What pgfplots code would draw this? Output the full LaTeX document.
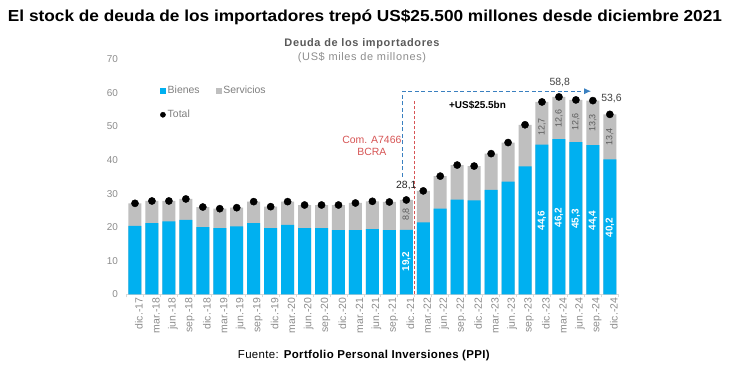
\documentclass[border=0pt]{standalone}
\usepackage{graphicx}
\usepackage{pgfplots}
\pgfplotsset{compat=1.18}
\usepackage{pgfplotstable}
\usepackage{fontspec}
\setmainfont{Liberation Sans}
\usetikzlibrary{arrows.meta}
\definecolor{bienes}{HTML}{00B0F0}
\definecolor{servicios}{HTML}{BFBFBF}
\definecolor{ticklbl}{HTML}{8C8C8C}
\definecolor{lgtxt}{HTML}{7F7F7F}
\definecolor{subdark}{HTML}{595959}
\definecolor{segtxt}{HTML}{5A5A5A}
\definecolor{axisgray}{HTML}{D9D9D9}
\definecolor{redann}{HTML}{D65454}
\definecolor{bluearr}{HTML}{3A80C0}

\pgfplotstableread{
idx bienes servicios total
0 20.4 6.7 27.1
1 21.2 6.6 27.8
2 21.7 6.1 27.8
3 22.2 6.2 28.4
4 20.0 6.0 26.0
5 19.7 5.8 25.5
6 20.2 5.6 25.8
7 21.2 6.4 27.6
8 19.7 6.4 26.1
9 20.7 6.9 27.6
10 19.7 6.9 26.6
11 19.7 6.9 26.6
12 19.1 7.5 26.6
13 19.1 8.1 27.2
14 19.4 8.3 27.7
15 19.1 8.4 27.5
16 19.2 8.8 28.1
17 21.4 9.4 30.8
18 25.5 9.7 35.2
19 28.2 10.3 38.5
20 28.0 10.2 38.2
21 31.1 10.8 41.9
22 33.6 11.6 45.2
23 38.1 12.4 50.5
24 44.6 12.7 57.3
25 46.2 12.6 58.8
26 45.3 12.6 57.9
27 44.4 13.3 57.7
28 40.2 13.4 53.6
}\datatable

\begin{document}
\begin{tikzpicture}
\path[use as bounding box] (0,0) rectangle (730bp,370bp);
\node[inner sep=0pt, font=\bfseries\fontsize{16}{19}\selectfont, text=black] at (365bp,353bp) {\resizebox{714bp}{\height}{El stock de deuda de los importadores trepó US\$25.500 millones desde diciembre 2021}};
\node[font=\bfseries\fontsize{11}{13}\selectfont, text=subdark] at (362bp,326bp) {\addfontfeatures{LetterSpace=6}Deuda de los importadores};
\node[font=\fontsize{11}{13}\selectfont, text=ticklbl] at (362bp,312bp) {\addfontfeatures{LetterSpace=6}(US\$ miles de millones)};
\node[font=\fontsize{11.5}{13}\selectfont, text=black] at (364bp,14bp) {\addfontfeatures{LetterSpace=3}Fuente: \textbf{Portfolio Personal Inversiones (PPI)}};
\begin{axis}[
  at={(126.5bp,75.7bp)}, anchor=south west,
  scale only axis, width=491.8bp, height=235bp,
  xmin=-0.5, xmax=28.5, ymin=0, ymax=70,
  enlargelimits=false, clip=false,
  axis x line*=bottom, axis y line*=left,
  x axis line style={draw=axisgray, line width=0.8bp},
  y axis line style={draw=none},
  ytick={0,10,...,70}, ytick style={draw=none},
  xtick={0,...,28},
  xticklabels={dic.-17,mar.-18,jun.-18,sep.-18,dic.-18,mar.-19,jun.-19,sep.-19,dic.-19,mar.-20,jun.-20,sep.-20,dic.-20,mar.-21,jun.-21,sep.-21,dic.-21,mar.-22,jun.-22,sep.-22,dic.-22,mar.-23,jun.-23,sep.-23,dic.-23,mar.-24,jun.-24,sep.-24,dic.-24},
  major tick length=0pt,
  minor xtick={-0.5,0.5,...,28.5},
  minor tick length=3bp, tick align=outside,
  minor tick style={draw=axisgray, line width=0.8bp},
  /pgf/number format/assume math mode=true,
  yticklabel style={font=\fontsize{10}{11}\selectfont, text=ticklbl, xshift=-5bp},
  xticklabel style={rotate=90, anchor=east, font=\fontsize{10.5}{12}\selectfont, text=ticklbl, yshift=-4bp},
  legend columns=2,
  legend cell align=left,
  legend style={draw=none, fill=none, inner sep=0pt,
    at={(axis description cs:0.068,0.895)}, anchor=north west,
    font=\fontsize{10.5}{12}\selectfont, text=lgtxt,
    row sep=11bp,
    /tikz/every even column/.append style={column sep=14bp}},
]
\addplot[ybar, bar width=13bp, bar shift=0pt, fill=servicios, draw=none, forget plot] table[x=idx, y=total] {\datatable};
\addplot[ybar, bar width=13bp, bar shift=0pt, fill=bienes, draw=none, forget plot] table[x=idx, y=bienes] {\datatable};
\addplot[only marks, mark=*, mark size=3.6bp, black, forget plot] table[x=idx, y=total] {\datatable};

\addlegendimage{legend image code/.code={\fill[bienes] (0bp,-2.6bp) rectangle (5.2bp,2.6bp);}}
\addlegendentry{Bienes}
\addlegendimage{legend image code/.code={\fill[servicios] (0bp,-2.6bp) rectangle (5.2bp,2.6bp);}}
\addlegendentry{Servicios}
\addlegendimage{legend image code/.code={\draw[black, mark=*, mark size=2.6bp] plot coordinates {(2.6bp,0bp)};}}
\addlegendentry{Total}

% annotation lines
\draw[redann, line width=0.9bp, dash pattern=on 3bp off 2bp] (axis cs:16.5,0) -- (axis cs:16.5,57.5);
\draw[bluearr, line width=1bp, dash pattern=on 4bp off 2.5bp, -{Latex[length=7bp,width=6bp]}] (axis cs:15.8,35) -- (axis cs:15.8,60.5) -- (axis cs:26.9,60.5);

\node[text=redann, align=center, font=\fontsize{10.5}{12}\selectfont] at (axis cs:13.97,44.2) {Com. A7466\\BCRA};
\node[font=\bfseries\fontsize{10}{11}\selectfont, text=black] at (axis cs:20.2,56.4) {+US\$25.5bn};
\node[font=\fontsize{10.5}{11}\selectfont, text=black!85] at (axis cs:16,32.3) {28,1};
\node[font=\fontsize{10.5}{11}\selectfont, text=black!75] at (axis cs:25.05,63.0) {58,8};
\node[font=\fontsize{10.5}{11}\selectfont, text=black!75] at (axis cs:28.1,58.2) {53,6};

% rotated value labels
\node[rotate=90, font=\bfseries\fontsize{10}{11}\selectfont, text=white] at (axis cs:16,9.8) {19,2};
\node[rotate=90, font=\bfseries\fontsize{10}{11}\selectfont, text=white] at (axis cs:24,22.0) {44,6};
\node[rotate=90, font=\bfseries\fontsize{10}{11}\selectfont, text=white] at (axis cs:25,22.8) {46,2};
\node[rotate=90, font=\bfseries\fontsize{10}{11}\selectfont, text=white] at (axis cs:26,22.4) {45,3};
\node[rotate=90, font=\bfseries\fontsize{10}{11}\selectfont, text=white] at (axis cs:27,22.0) {44,4};
\node[rotate=90, font=\bfseries\fontsize{10}{11}\selectfont, text=white] at (axis cs:28,19.9) {40,2};
\node[rotate=90, font=\fontsize{9}{10}\selectfont, text=segtxt] at (axis cs:16,23.7) {8,8};
\node[rotate=90, font=\fontsize{9}{10}\selectfont, text=segtxt] at (axis cs:24,49.8) {12,7};
\node[rotate=90, font=\fontsize{9}{10}\selectfont, text=segtxt] at (axis cs:25,52.4) {12,6};
\node[rotate=90, font=\fontsize{9}{10}\selectfont, text=segtxt] at (axis cs:26,51.4) {12,6};
\node[rotate=90, font=\fontsize{9}{10}\selectfont, text=segtxt] at (axis cs:27,51.1) {13,3};
\node[rotate=90, font=\fontsize{9}{10}\selectfont, text=segtxt] at (axis cs:28,46.9) {13,4};
\end{axis}
\end{tikzpicture}
\end{document}
